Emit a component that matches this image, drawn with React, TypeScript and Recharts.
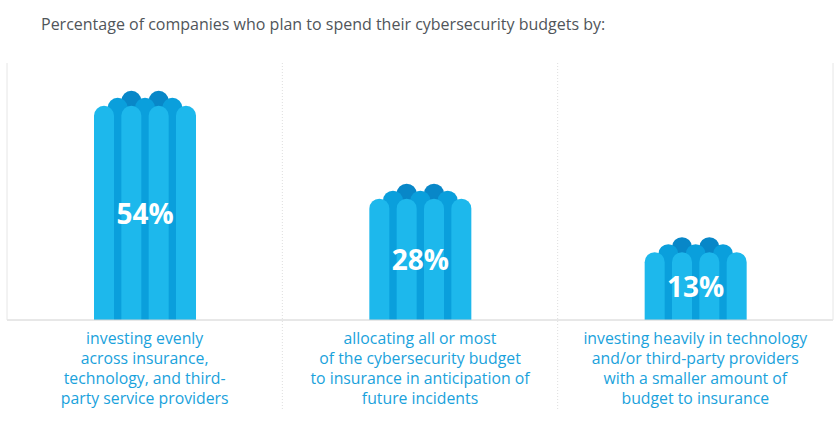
import React from "react";
import { BarChart, Bar, XAxis, YAxis } from "recharts";

const title = "Percentage of companies who plan to spend their cybersecurity budgets by:";
const categories = ["evenly", "insurance", "technology"];
const values = [54, 28, 13];
const valueLabels = ["54%", "28%", "13%"];
const categoryLines = [
  ["investing evenly", "across insurance,", "technology, and third-", "party service providers"],
  ["allocating all or most", "of the cybersecurity budget", "to insurance in anticipation of", "future incidents"],
  ["investing heavily in technology", "and/or third-party providers", "with a smaller amount of", "budget to insurance"],
];

const data = categories.map((c, i) => ({ name: c, value: values[i], label: valueLabels[i] }));

const LIGHT = "#1db8ec";
const MEDIUM = "#0a9fdc";
const DARK = "#0887c8";
const FONT = "'Open Sans', 'Noto Sans', sans-serif";

const pill = (left: number, top: number, w: number, bottom: number) => {
  const r = w / 2;
  return `M${left},${bottom} L${left},${top + r} A${r},${r} 0 0 1 ${left + w},${top + r} L${left + w},${bottom} Z`;
};

const PillBar = (props: any) => {
  const { x, y, width, height, background, payload } = props;
  if (x == null || y == null) return null;
  const bottom = background && background.height ? background.y + background.height : y + height;
  const w = 20;
  const step = (width - w) / 3;
  const darks = [1, 2].map((i) => pill(x + i * step, y - 15, w, bottom));
  const mediums = [0, 1, 2].map((i) => pill(x + w + (step - w) / 2 + i * step - w / 2, y - 8, w, bottom));
  const lights = [0, 1, 2, 3].map((i) => pill(x + i * step, y, w, bottom));
  return (
    <g>
      {darks.map((d, i) => <path key={"d" + i} d={d} fill={DARK} />)}
      {mediums.map((d, i) => <path key={"m" + i} d={d} fill={MEDIUM} />)}
      {lights.map((d, i) => <path key={"l" + i} d={d} fill={LIGHT} />)}
      <text
        x={x + width / 2}
        y={(y + bottom) / 2}
        textAnchor="middle"
        dominantBaseline="central"
        fill="#ffffff"
        fontSize={28}
        fontWeight={700}
        fontFamily={FONT}
      >
        {payload ? payload.label : ""}
      </text>
    </g>
  );
};

const PLOT_TOP = 63;
const BASE = 320;

const CategoryTick = (props: any) => {
  const { x, y, payload, index } = props;
  const lines: string[] = categoryLines[index] || [];
  const half = payload && payload.offset ? payload.offset : 137.7;
  const sepTop = PLOT_TOP;
  return (
    <g>
      {index === 0 && <line x1={x - half} x2={x - half} y1={sepTop} y2={y} stroke="#e6e6e6" />}
      {index === categories.length - 1 && <line x1={x + half} x2={x + half} y1={sepTop} y2={y} stroke="#e6e6e6" />}
      {index < categories.length - 1 && (
        <line x1={x + half} x2={x + half} y1={sepTop} y2={y + 90} stroke="#dedede" strokeDasharray="1 2" />
      )}
      <text textAnchor="middle" fill="#1aa2dc" fontFamily={FONT} fontSize={15.8}>
        {lines.map((l, i) => (
          <tspan key={i} x={x} y={y + 24 + i * 20}>{l}</tspan>
        ))}
      </text>
    </g>
  );
};

export default function App() {
  return (
    <div style={{ position: "absolute", left: 0, top: 0, width: 840, height: 425, background: "#fff" }}>
      <div
        style={{
          position: "absolute",
          left: 41,
          top: 13,
          fontFamily: FONT,
          fontSize: 16,
          color: "#50555a",
          fontWeight: 500,
          whiteSpace: "nowrap",
        }}
      >
        {title}
      </div>
      <BarChart
        width={840}
        height={425}
        data={data}
        margin={{ top: PLOT_TOP, right: 7, bottom: 0, left: 7 }}
        barSize={102}
      >
        <YAxis hide domain={[-6, 66]} allowDataOverflow />
        <XAxis
          dataKey="name"
          axisLine={{ stroke: "#d0d0d0" }}
          tickLine={false}
          tickSize={0}
          tickMargin={0}
          height={425 - BASE}
          interval={0}
          tick={<CategoryTick />}
        />
        <Bar dataKey="value" shape={<PillBar />} isAnimationActive={false} />
      </BarChart>
    </div>
  );
}
